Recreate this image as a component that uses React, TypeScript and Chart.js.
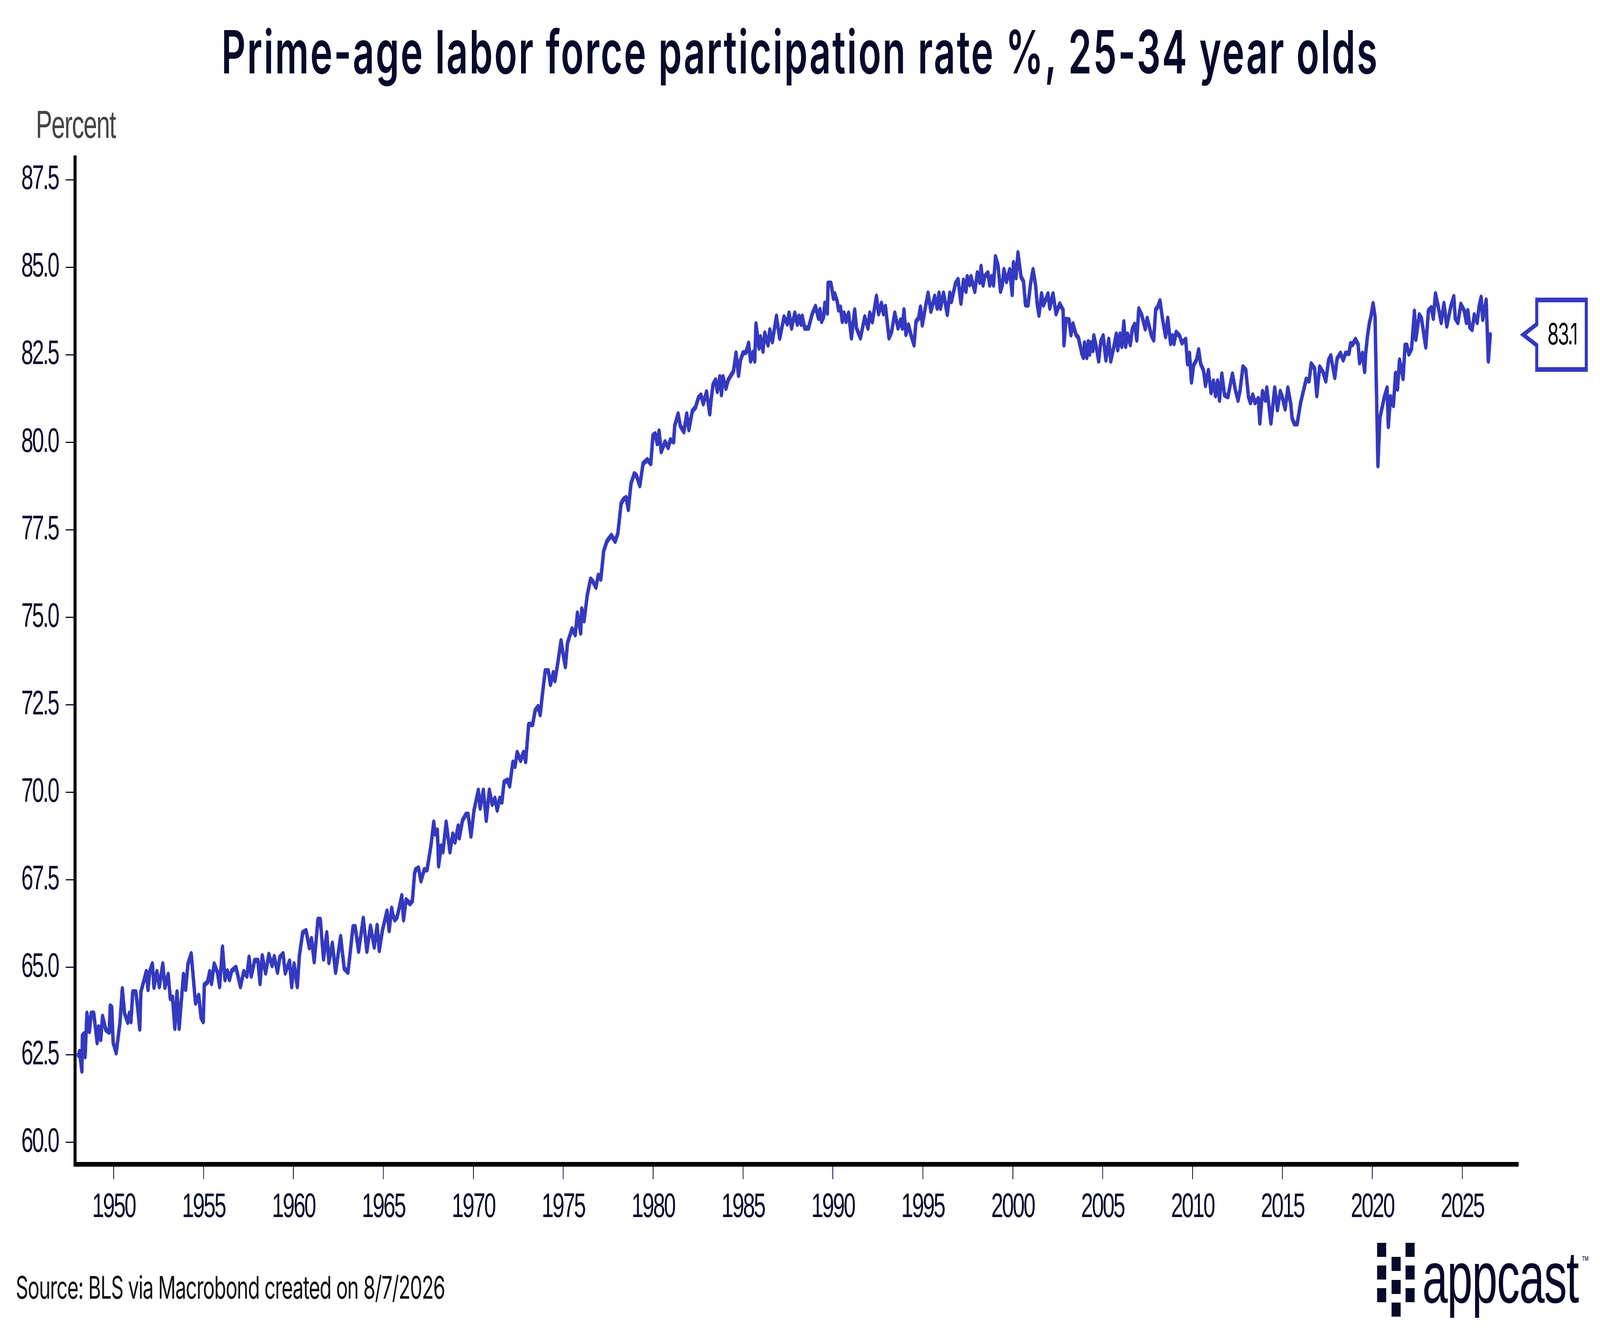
import { useEffect, useRef } from "react";
import { Chart, registerables } from "chart.js";

Chart.register(...registerables);

// ---- data (decimal year, percent) ----
const rate1948to1965: [number, number][] = [
  [1948.04, 62.49], [1948.1, 62.6], [1948.23, 62.04], [1948.26, 63.05], [1948.35, 63.1], [1948.41, 62.45],
  [1948.51, 63.69], [1948.65, 63.17], [1948.75, 63.69], [1948.89, 63.69], [1949.08, 62.85], [1949.16, 63.3],
  [1949.28, 62.94], [1949.38, 63.6], [1949.56, 63.22], [1949.75, 63.15], [1949.81, 63.9], [1949.89, 63.86],
  [1949.97, 62.85], [1950.14, 62.56], [1950.35, 63.43], [1950.48, 64.39], [1950.6, 63.69], [1950.78, 63.43],
  [1950.87, 63.69], [1950.96, 63.45], [1951.06, 64.3], [1951.23, 64.3], [1951.33, 63.86], [1951.45, 63.24],
  [1951.51, 64.3], [1951.67, 64.6], [1951.81, 64.88], [1951.91, 64.37], [1952.0, 64.88], [1952.15, 65.1],
  [1952.24, 64.43], [1952.4, 64.88], [1952.54, 64.45], [1952.73, 65.1], [1952.85, 64.43], [1953.03, 64.8],
  [1953.15, 64.11], [1953.27, 64.15], [1953.4, 63.26], [1953.52, 64.3], [1953.64, 63.26], [1953.88, 64.8],
  [1954.0, 64.37], [1954.13, 65.1], [1954.31, 65.39], [1954.55, 63.98], [1954.73, 64.2], [1954.86, 63.56],
  [1954.98, 63.45], [1955.04, 64.5], [1955.22, 64.58], [1955.34, 64.88], [1955.44, 64.54], [1955.59, 65.1],
  [1955.77, 64.86], [1955.89, 64.45], [1956.05, 65.58], [1956.19, 64.65], [1956.32, 64.9], [1956.44, 64.65],
  [1956.56, 64.9], [1956.8, 65.0], [1957.05, 64.45], [1957.23, 64.88], [1957.41, 64.75], [1957.53, 65.29],
  [1957.65, 64.75], [1957.84, 65.2], [1958.02, 65.2], [1958.14, 64.54], [1958.26, 65.33], [1958.45, 64.84],
  [1958.63, 65.37], [1958.81, 65.05], [1958.93, 65.31], [1959.11, 64.86], [1959.24, 65.29], [1959.42, 65.39],
  [1959.54, 64.84], [1959.78, 65.18], [1959.9, 64.45], [1960.03, 65.1], [1960.21, 64.45], [1960.33, 65.35],
  [1960.51, 65.99], [1960.7, 66.05], [1960.88, 65.56], [1961.0, 65.82], [1961.15, 65.16], [1961.36, 66.37],
  [1961.49, 66.37], [1961.67, 65.24], [1961.85, 65.99], [1961.97, 65.14], [1962.16, 65.69], [1962.34, 64.86],
  [1962.62, 65.88], [1962.82, 64.97], [1963.03, 64.86], [1963.31, 66.16], [1963.43, 66.16], [1963.62, 65.46],
  [1963.88, 66.4], [1964.08, 65.46], [1964.28, 66.18], [1964.49, 65.58], [1964.65, 66.2], [1964.77, 65.48],
  [1964.95, 66.07], [1965.2, 66.61], [1965.32, 66.05], [1965.46, 66.69],
];

const rate1965to1983: [number, number][] = [
  [1965.51, 66.53], [1965.63, 66.36], [1965.75, 66.42], [1965.88, 66.7], [1966.02, 67.05], [1966.12, 66.36],
  [1966.26, 66.93], [1966.48, 66.82], [1966.61, 66.9], [1966.73, 67.67], [1966.79, 67.79], [1966.95, 67.84],
  [1967.09, 67.47], [1967.27, 67.79], [1967.43, 67.79], [1967.64, 68.47], [1967.8, 69.15], [1967.88, 68.81],
  [1968.0, 68.92], [1968.07, 67.9], [1968.21, 68.47], [1968.31, 68.3], [1968.49, 69.15], [1968.7, 68.3],
  [1968.86, 68.81], [1968.98, 68.58], [1969.16, 69.04], [1969.22, 68.7], [1969.4, 69.2], [1969.59, 69.37],
  [1969.71, 69.37], [1969.87, 68.75], [1970.04, 69.49], [1970.28, 70.06], [1970.38, 69.55], [1970.56, 70.06],
  [1970.72, 69.2], [1970.89, 70.06], [1971.05, 69.66], [1971.2, 69.83], [1971.33, 69.49], [1971.47, 69.83],
  [1971.59, 69.72], [1971.71, 70.29], [1971.9, 70.35], [1972.02, 70.18], [1972.2, 70.86], [1972.32, 70.74],
  [1972.44, 71.14], [1972.63, 70.91], [1972.79, 71.14], [1972.91, 70.88], [1973.08, 71.94], [1973.3, 71.94],
  [1973.44, 72.34], [1973.6, 72.45], [1973.72, 72.22], [1973.84, 72.79], [1974.0, 73.47], [1974.17, 73.47],
  [1974.29, 73.08], [1974.45, 73.42], [1974.54, 73.19], [1974.7, 73.7], [1974.88, 74.33], [1975.0, 73.93],
  [1975.12, 73.59], [1975.24, 74.27], [1975.49, 74.67], [1975.67, 74.5], [1975.79, 75.12], [1975.97, 74.55],
  [1976.03, 75.24], [1976.16, 74.9], [1976.34, 75.64], [1976.52, 76.09], [1976.64, 76.03], [1976.82, 75.86],
  [1976.95, 76.2], [1977.09, 76.09], [1977.25, 76.89], [1977.43, 77.17], [1977.68, 77.34], [1977.89, 77.17],
  [1978.04, 77.4], [1978.22, 78.25], [1978.35, 78.37], [1978.5, 78.42], [1978.62, 78.08], [1978.77, 78.82],
  [1978.95, 79.1], [1979.07, 79.05], [1979.26, 78.76], [1979.44, 79.39], [1979.68, 79.5], [1979.87, 79.39],
  [1979.99, 80.19], [1980.11, 80.24], [1980.23, 79.96], [1980.33, 80.32], [1980.45, 79.73], [1980.66, 80.01],
  [1980.84, 79.85], [1980.96, 80.07], [1981.14, 80.01], [1981.2, 80.47], [1981.39, 80.81], [1981.51, 80.47],
  [1981.71, 80.3], [1981.87, 80.81], [1981.99, 80.36], [1982.18, 80.89], [1982.36, 81.0], [1982.52, 81.27],
  [1982.66, 81.35], [1982.79, 81.1], [1982.97, 81.44], [1983.15, 80.81],
];

const rate1983to2003: [number, number][] = [
  [1983.22, 81.18], [1983.33, 81.64], [1983.47, 81.78], [1983.57, 81.45], [1983.71, 81.87], [1983.8, 81.36],
  [1983.89, 81.87], [1984.05, 81.54], [1984.17, 81.77], [1984.33, 81.91], [1984.47, 82.03], [1984.61, 82.55],
  [1984.75, 81.91], [1984.86, 82.35], [1985.0, 82.55], [1985.17, 82.57], [1985.31, 82.83], [1985.42, 82.32],
  [1985.56, 82.57], [1985.65, 82.32], [1985.72, 83.38], [1985.89, 82.69], [1985.97, 83.01], [1986.11, 82.6],
  [1986.21, 83.12], [1986.39, 82.78], [1986.49, 83.21], [1986.63, 82.87], [1986.77, 83.31], [1986.86, 83.6],
  [1987.04, 82.97], [1987.28, 83.58], [1987.46, 83.38], [1987.56, 83.69], [1987.7, 83.26], [1987.88, 83.69],
  [1988.02, 83.37], [1988.11, 83.6], [1988.23, 83.37], [1988.29, 83.6], [1988.43, 83.26], [1988.64, 83.26],
  [1988.85, 83.67], [1989.03, 83.88], [1989.2, 83.54], [1989.28, 83.79], [1989.37, 83.45], [1989.48, 83.58],
  [1989.55, 83.97], [1989.69, 83.69], [1989.73, 84.54], [1989.89, 84.54], [1990.03, 84.11], [1990.1, 84.24],
  [1990.24, 84.02], [1990.31, 83.78], [1990.42, 83.86], [1990.52, 83.45], [1990.62, 83.69], [1990.73, 83.45],
  [1990.87, 83.69], [1991.03, 82.98], [1991.21, 83.78], [1991.31, 83.26], [1991.53, 82.98], [1991.77, 83.58],
  [1991.95, 83.26], [1992.05, 83.69], [1992.19, 83.44], [1992.42, 84.17], [1992.54, 83.67], [1992.7, 83.97],
  [1992.81, 83.67], [1992.92, 83.88], [1993.12, 82.98], [1993.26, 83.15], [1993.44, 83.69], [1993.62, 83.26],
  [1993.76, 83.49], [1993.86, 83.26], [1993.95, 83.78], [1994.06, 83.08], [1994.2, 83.35], [1994.34, 83.07],
  [1994.51, 82.78], [1994.62, 83.45], [1994.76, 83.54], [1994.87, 83.86], [1994.97, 83.35], [1995.15, 83.88],
  [1995.29, 84.26], [1995.45, 83.74], [1995.66, 84.17], [1995.8, 83.83], [1995.9, 84.26], [1995.98, 83.83],
  [1996.15, 84.26], [1996.36, 83.65], [1996.5, 84.26], [1996.59, 84.02], [1996.82, 84.54], [1996.96, 84.65],
  [1997.12, 83.97], [1997.26, 84.63], [1997.4, 84.31], [1997.47, 84.73], [1997.61, 84.5], [1997.68, 84.73],
  [1997.89, 84.31], [1998.03, 84.84], [1998.17, 84.57], [1998.24, 85.02], [1998.35, 84.49], [1998.44, 84.73],
  [1998.62, 84.84], [1998.72, 84.49], [1998.82, 84.73], [1998.93, 84.49], [1999.04, 85.3], [1999.18, 85.06],
  [1999.32, 84.31], [1999.42, 84.49], [1999.51, 84.93], [1999.65, 84.59], [1999.83, 84.93], [1999.97, 84.22],
  [2000.04, 85.13], [2000.18, 84.7], [2000.29, 85.41], [2000.46, 84.73], [2000.6, 84.59], [2000.71, 83.93],
  [2000.85, 83.92], [2000.99, 84.52], [2001.13, 84.93], [2001.27, 84.49], [2001.36, 83.95], [2001.46, 83.63],
  [2001.6, 84.24], [2001.71, 83.92], [2001.96, 84.24], [2002.06, 83.83], [2002.24, 84.24], [2002.41, 83.67],
  [2002.61, 83.95], [2002.8, 83.78], [2002.85, 82.78], [2002.96, 83.51], [2003.13, 83.49], [2003.24, 83.07],
  [2003.35, 83.38], [2003.52, 83.07],
];

const rate2003to2026: [number, number][] = [
  [2003.65, 82.99], [2003.78, 82.69], [2003.84, 82.54], [2003.93, 82.42], [2003.99, 82.84], [2004.12, 82.42],
  [2004.2, 82.87], [2004.28, 82.52], [2004.35, 82.84], [2004.46, 82.62], [2004.51, 83.04], [2004.62, 82.79],
  [2004.78, 82.32], [2004.9, 82.89], [2005.03, 83.04], [2005.18, 82.35], [2005.34, 82.94], [2005.45, 82.32],
  [2005.61, 82.69], [2005.76, 83.09], [2005.84, 82.64], [2005.97, 83.09], [2006.07, 82.74], [2006.18, 83.44],
  [2006.28, 82.74], [2006.39, 83.09], [2006.54, 82.79], [2006.65, 83.24], [2006.78, 83.37], [2006.9, 82.92],
  [2007.01, 83.81], [2007.17, 83.64], [2007.37, 83.24], [2007.48, 83.54], [2007.72, 83.04], [2007.84, 82.92],
  [2007.95, 83.79], [2008.06, 83.86], [2008.19, 84.04], [2008.34, 83.49], [2008.5, 83.02], [2008.62, 83.54],
  [2008.78, 82.82], [2008.89, 83.04], [2008.97, 82.82], [2009.09, 83.14], [2009.28, 83.04], [2009.41, 82.84],
  [2009.62, 82.94], [2009.72, 82.24], [2009.83, 82.54], [2009.94, 81.72], [2010.06, 82.2], [2010.22, 82.35],
  [2010.34, 82.64], [2010.45, 82.24], [2010.61, 82.05], [2010.72, 81.62], [2010.88, 82.05], [2011.03, 81.42],
  [2011.16, 81.75], [2011.28, 81.33], [2011.39, 81.75], [2011.5, 81.2], [2011.63, 81.95], [2011.78, 81.35],
  [2011.97, 81.3], [2012.1, 81.65], [2012.22, 81.95], [2012.38, 81.5], [2012.53, 81.2], [2012.64, 81.47],
  [2012.8, 82.15], [2012.96, 82.07], [2013.11, 81.3], [2013.22, 81.13], [2013.35, 81.35], [2013.47, 81.13],
  [2013.66, 81.25], [2013.74, 80.55], [2013.89, 81.45], [2014.05, 81.2], [2014.13, 81.55], [2014.36, 80.55],
  [2014.57, 81.55], [2014.72, 80.93], [2014.88, 81.45], [2014.99, 81.3], [2015.15, 80.95], [2015.3, 81.55],
  [2015.46, 81.1], [2015.54, 80.68], [2015.66, 80.53], [2015.82, 80.53], [2016.01, 81.13], [2016.16, 81.45],
  [2016.32, 81.8], [2016.48, 81.75], [2016.6, 82.24], [2016.79, 82.1], [2016.91, 81.33], [2017.07, 82.15],
  [2017.26, 82.0], [2017.41, 81.75], [2017.57, 82.35], [2017.69, 82.47], [2017.91, 81.85], [2018.04, 82.39],
  [2018.23, 82.54], [2018.38, 82.35], [2018.51, 82.54], [2018.7, 82.54], [2018.79, 82.82], [2018.9, 82.79],
  [2019.06, 82.94], [2019.21, 82.79], [2019.29, 82.27], [2019.45, 82.54], [2019.57, 82.02], [2019.63, 82.54],
  [2019.73, 83.04], [2019.84, 83.42], [2019.92, 83.59], [2020.04, 83.96], [2020.15, 83.59], [2020.31, 79.33],
  [2020.42, 80.7], [2020.54, 80.98], [2020.67, 81.3], [2020.82, 81.55], [2020.89, 80.45], [2021.01, 81.3],
  [2021.17, 81.05], [2021.29, 81.97], [2021.4, 81.52], [2021.51, 82.35], [2021.71, 81.82], [2021.82, 82.77],
  [2021.92, 82.77], [2022.03, 82.52], [2022.18, 82.67], [2022.34, 83.74], [2022.42, 82.94], [2022.61, 83.64],
  [2022.73, 83.54], [2022.97, 82.72], [2023.12, 83.76], [2023.28, 83.84], [2023.39, 83.54], [2023.51, 84.24],
  [2023.64, 83.94], [2023.83, 83.42], [2023.98, 83.96], [2024.14, 83.32], [2024.37, 83.89], [2024.53, 84.16],
  [2024.61, 83.54], [2024.76, 83.42], [2024.92, 83.94], [2025.11, 83.76], [2025.23, 83.42], [2025.31, 83.76],
  [2025.42, 83.29], [2025.55, 83.22], [2025.67, 83.64], [2025.83, 83.42], [2025.94, 83.89], [2026.05, 84.14],
  [2026.14, 83.51], [2026.33, 84.06], [2026.45, 82.32], [2026.56, 83.07],
];

const xTickYears = [1950, 1955, 1960, 1965, 1970, 1975, 1980, 1985, 1990, 1995, 2000, 2005, 2010, 2015, 2020, 2025];
const yTickValues = [60, 62.5, 65, 67.5, 70, 72.5, 75, 77.5, 80, 82.5, 85, 87.5];

const TITLE = "Prime-age labor force participation rate %, 25-34 year olds";
const Y_LABEL = "Percent";
const SOURCE = "Source: BLS via Macrobond created on 8/7/2026";
const LOGO_TEXT = "appcast";

const LINE_COLOR = "#3439BF";
const NAVY = "#07092b";

// design size of the reference
const W = 6525;
const H = 3418;

const allPoints = [...rate1948to1965, ...rate1965to1983, ...rate1983to2003, ...rate2003to2026];

const measureCtx = document.createElement("canvas").getContext("2d") as CanvasRenderingContext2D;
function spacingFor(text: string, font: string, target: number) {
  measureCtx.font = font;
  measureCtx.letterSpacing = "0px";
  const w = measureCtx.measureText(text).width;
  return (target - w) / text.length;
}

const TITLE_FONT = "600 153px Inter";
const SOURCE_FONT = "400 80px Inter";
const YLABEL_FONT = "400 100px 'Liberation Sans'";
const LOGO_FONT = "400 187px 'Liberation Sans'";
const CALLOUT_FONT = "400 76px Inter";

const calloutPlugin = {
  id: "lastValueCallout",
  beforeDraw(chart: any) {
    chart.ctx.letterSpacing = "-5px";
  },
  afterDraw(chart: any) {
    const { ctx, chartArea, scales } = chart;
    const last = allPoints[allPoints.length - 1];
    const label = last[1].toFixed(1);
    const y = scales.y.getPixelForValue(last[1]);
    const tipX = chartArea.right + 20;
    const left = chartArea.right + 75;
    const right = chartArea.right + 277;
    const top = y - 89;
    const bottom = y + 89;
    ctx.save();
    ctx.beginPath();
    ctx.moveTo(left, y - 27);
    ctx.lineTo(left, top);
    ctx.lineTo(right, top);
    ctx.lineTo(right, bottom);
    ctx.lineTo(left, bottom);
    ctx.lineTo(left, y + 27);
    ctx.lineTo(tipX, y);
    ctx.closePath();
    ctx.fillStyle = "#ffffff";
    ctx.fill();
    ctx.lineWidth = 12;
    ctx.lineJoin = "miter";
    ctx.strokeStyle = LINE_COLOR;
    ctx.stroke();
    const ls = spacingFor(label, CALLOUT_FONT, 120);
    ctx.letterSpacing = `${ls}px`;
    ctx.fillStyle = "#000000";
    ctx.font = CALLOUT_FONT;
    ctx.textAlign = "center";
    ctx.textBaseline = "middle";
    ctx.fillText(label, (left + right) / 2 - ls / 2, y + 2);
    ctx.restore();
  },
};

const logoSquares = [
  [5616, 3182], [5616, 3240], [5616, 3298],
  [5675, 3218], [5675, 3277], [5675, 3335],
  [5732, 3182], [5732, 3240], [5732, 3298],
];

export default function App() {
  const canvasRef = useRef<HTMLCanvasElement | null>(null);
  const sx = (typeof window !== "undefined" ? window.innerWidth : W) / W;
  const sy = (typeof window !== "undefined" ? window.innerHeight : H) / H;

  useEffect(() => {
    if (!canvasRef.current) return;
    const chart = new Chart(canvasRef.current, {
      type: "line",
      data: {
        datasets: [
          {
            data: allPoints.map(([x, y]) => ({ x, y })),
            borderColor: LINE_COLOR,
            borderWidth: 14,
            borderJoinStyle: "round",
            borderCapStyle: "round",
            pointRadius: 0,
            tension: 0,
            fill: false,
          },
        ],
      },
      options: {
        animation: false,
        responsive: false,
        devicePixelRatio: 1,
        layout: { padding: { left: 0, top: 404, right: 333, bottom: 237 } },
        plugins: { legend: { display: false }, tooltip: { enabled: false }, title: { display: false } },
        scales: {
          x: {
            type: "linear",
            min: 1947.85,
            max: 2028.12,
            afterBuildTicks: (scale: any) => {
              scale.ticks = xTickYears.map((v) => ({ value: v }));
            },
            afterFit: (scale: any) => {
              scale.height = 200;
            },
            ticks: {
              autoSkip: false,
              maxRotation: 0,
              padding: 20,
              color: NAVY,
              font: { family: "'Liberation Sans', Arial, sans-serif", size: 88 },
              callback: (v: any) => String(v),
            },
            grid: { drawOnChartArea: false, drawTicks: true, tickLength: 38, tickWidth: 3, tickColor: NAVY },
            border: { display: true, color: "#000000", width: 12 },
          },
          y: {
            type: "linear",
            min: 59.375,
            max: 88.125,
            afterBuildTicks: (scale: any) => {
              scale.ticks = yTickValues.map((v) => ({ value: v }));
            },
            afterFit: (scale: any) => {
              scale.width = 306;
            },
            ticks: {
              autoSkip: false,
              padding: 30,
              color: NAVY,
              font: { family: "'Liberation Sans', Arial, sans-serif", size: 88 },
              callback: (v: any) => Number(v).toFixed(1),
            },
            grid: { drawOnChartArea: false, drawTicks: true, tickLength: 38, tickWidth: 3, tickColor: NAVY },
            border: { display: true, color: "#000000", width: 12 },
          },
        },
      },
      plugins: [calloutPlugin],
    } as any);
    return () => chart.destroy();
  }, []);

  const titleLs = spacingFor(TITLE, TITLE_FONT, 4723);
  const sourceLs = spacingFor(SOURCE, SOURCE_FONT, 1750);
  const ylabelLs = spacingFor(Y_LABEL, YLABEL_FONT, 325);
  const logoLs = spacingFor(LOGO_TEXT, LOGO_FONT, 637);

  return (
    <div
      style={{
        position: "fixed", left: 0, top: 0, width: W, height: H, background: "#fff", overflow: "hidden",
        transform: `scale(${sx}, ${sy})`, transformOrigin: "0 0",
      }}
    >
      <canvas ref={canvasRef} width={W} height={H} style={{ position: "absolute", left: 0, top: 0, width: W, height: H }} />
      <div
        style={{
          position: "absolute", left: 903, top: 56, whiteSpace: "nowrap",
          font: TITLE_FONT + ", sans-serif", lineHeight: 1, color: NAVY, letterSpacing: `${titleLs}px`,
        }}
      >
        {TITLE}
      </div>
      <div
        style={{
          position: "absolute", left: 146, top: 268, whiteSpace: "nowrap",
          font: YLABEL_FONT + ", Arial, sans-serif", lineHeight: 1, color: "#444444", letterSpacing: `${ylabelLs}px`,
        }}
      >
        {Y_LABEL}
      </div>
      <div
        style={{
          position: "absolute", left: 64, top: 3256, whiteSpace: "nowrap",
          font: SOURCE_FONT + ", sans-serif", lineHeight: 1, color: "#111111", letterSpacing: `${sourceLs}px`,
        }}
      >
        {SOURCE}
      </div>
      {logoSquares.map(([x, y], i) => (
        <div key={i} style={{ position: "absolute", left: x, top: y, width: 37, height: 36, background: NAVY }} />
      ))}
      <div
        style={{
          position: "absolute", left: 5800, top: 3177, whiteSpace: "nowrap",
          font: LOGO_FONT + ", Arial, sans-serif", lineHeight: 1, color: NAVY, letterSpacing: `${logoLs}px`,
        }}
      >
        {LOGO_TEXT}
      </div>
      <div
        style={{
          position: "absolute", left: 6450, top: 3212, whiteSpace: "nowrap",
          font: "400 30px 'Liberation Sans', Arial, sans-serif", lineHeight: 1, color: NAVY,
        }}
      >
        ™
      </div>
    </div>
  );
}
